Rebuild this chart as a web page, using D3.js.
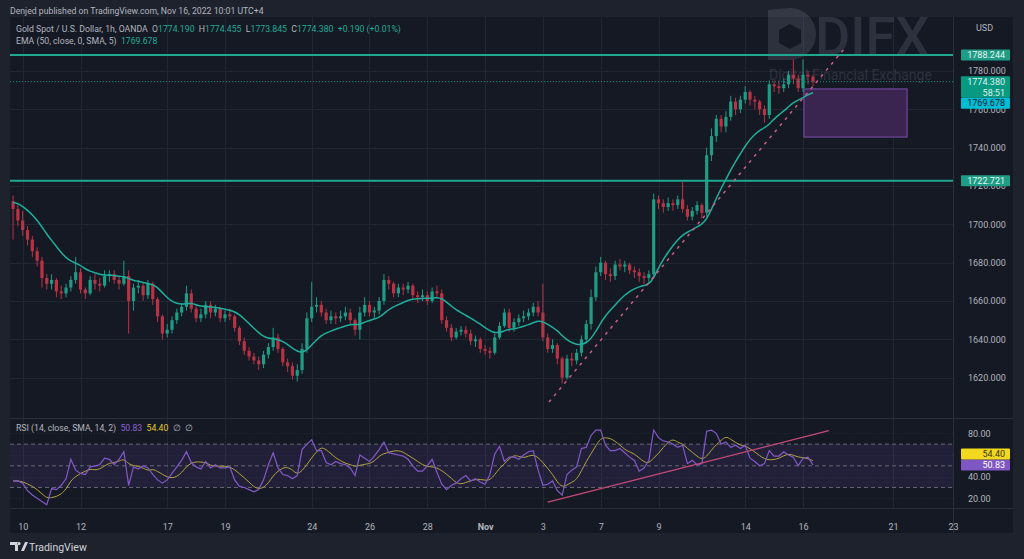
<!DOCTYPE html>
<html>
<head>
<meta charset="utf-8">
<script src="https://cdn.jsdelivr.net/npm/d3@7"></script>
<style>
body{margin:0;background:#1e222d;}
svg{display:block;font-family:Roboto,"Liberation Sans",sans-serif;}
</style>
</head>
<body>
<svg id="chart" width="1024" height="559"></svg>
<script>
// 4h candles, 6 per trading day, first two before Oct 10
var firstOpen = 1712;
var closes = [1708,1702,1697,1692,1686,1681,1672,1669,1671,1665, 1664,1667,1671,1675,1666,1664,1671,1669,1668,1673,
  1674,1671,1669,1673,1660,1667,1668,1663,1669,1661, 1652,1643,1645,1650,1654,1657,1664,1656,1651,1653,
  1658,1654,1656,1651,1653,1652,1646,1639,1634,1631, 1629,1627,1632,1636,1641,1635,1628,1626,1621,1624,
  1635,1651,1657,1658,1654,1650,1652,1651,1652,1654, 1650,1645,1654,1658,1654,1655,1660,1671,1669,1664,
  1667,1666,1668,1663,1662,1663,1660,1665,1664,1650, 1646,1641,1644,1645,1643,1639,1640,1635,1634,1633,
  1641,1647,1654,1646,1649,1651,1652,1654,1657,1654, 1641,1635,1637,1630,1620,1630,1629,1633,1640,1648,
  1662,1675,1680,1674,1673,1679,1678,1679,1676,1675, 1673,1672,1674,1713,1711,1709,1711,1710,1713,1708,
  1704,1707,1710,1706,1736,1746,1755,1751,1756,1764, 1760,1765,1769,1765,1764,1760,1757,1773,1772,1771,
  1773,1778,1776,1771,1778,1777,1774.38];
var highs = [1715,1710,1707,1699,1694,1688,1683,1674,1674,1672, 1668,1669,1673,1683,1677,1667,1673,1674,1672,1676,
  1676,1676,1673,1681,1676,1669,1671,1670,1671,1670, 1662,1653,1648,1652,1656,1659,1668,1666,1658,1656,
  1660,1660,1658,1657,1655,1656,1653,1647,1641,1636, 1633,1631,1634,1638,1646,1643,1636,1630,1628,1627,
  1638,1654,1670,1662,1660,1656,1655,1654,1655,1657, 1656,1651,1657,1662,1660,1657,1662,1674,1673,1670,
  1669,1669,1670,1669,1665,1666,1665,1667,1668,1666, 1652,1648,1646,1647,1647,1645,1642,1641,1637,1636,
  1643,1649,1656,1656,1651,1653,1655,1656,1659,1660, 1669,1643,1640,1638,1631,1632,1633,1635,1642,1650,
  1666,1678,1683,1681,1677,1681,1682,1681,1680,1678, 1677,1675,1676,1716,1715,1713,1714,1713,1715,1722,
  1710,1709,1712,1711,1740,1750,1757,1757,1759,1767, 1766,1767,1772,1770,1767,1765,1762,1775,1775,1775,
  1776,1780,1786,1778,1786,1780,1778];
var lows = [1692,1699,1694,1689,1683,1678,1667,1666,1666,1662, 1661,1662,1665,1669,1664,1661,1663,1666,1665,1667,
  1670,1669,1666,1668,1643,1655,1664,1660,1661,1658, 1649,1640,1641,1643,1648,1652,1655,1654,1649,1649,
  1651,1651,1652,1649,1649,1650,1644,1637,1632,1629, 1627,1624,1625,1630,1634,1633,1626,1623,1619,1618,
  1622,1633,1649,1654,1652,1648,1648,1648,1649,1650, 1648,1642,1640,1652,1652,1651,1653,1658,1666,1662,
  1662,1663,1664,1661,1659,1660,1658,1659,1662,1648, 1644,1639,1640,1642,1641,1637,1636,1633,1632,1630,
  1632,1640,1646,1644,1644,1647,1649,1650,1652,1652, 1639,1633,1633,1627,1617,1619,1626,1627,1631,1638,
  1645,1660,1673,1671,1670,1671,1676,1675,1674,1672, 1670,1669,1669,1672,1708,1706,1707,1707,1708,1706,
  1702,1702,1705,1703,1704,1733,1743,1748,1748,1754, 1757,1758,1763,1762,1760,1757,1753,1755,1769,1768,
  1769,1771,1773,1769,1769,1773,1772];
var rsi = [36,36,34,27,23,20,17,14,29,28, 32,38,56,46,43,42,49,50,51,57,
  56,51,56,63,32,49,47,50,48,42, 37,34,37,43,49,55,63,53,49,47,
  54,48,51,48,48,49,37,31,30,28, 26,28,37,51,62,48,42,41,38,41,
  65,70,74,64,64,53,51,54,52,51, 48,41,60,57,54,59,65,72,62,61,
  60,59,56,50,45,45,50,56,44,33, 28,32,34,38,41,36,38,35,33,42,
  61,68,54,58,58,56,60,63,64,46, 32,33,36,27,23,42,46,49,66,67,
  78,83,83,69,64,64,66,62,58,55, 45,48,55,83,76,73,72,70,67,69,
  52,55,51,52,82,83,80,70,72,67, 69,66,69,57,54,50,52,64,59,59,
  63,60,58,50,57,58,50.83];

var dayTicks = [0,2,5,7,10,12,14,16,18,20,22,25,27,30,32];
var dayLabels = ["10","12","17","19","24","26","28","Nov","3","7","9","14","16","21","23"];
var priceTicks = [1620,1640,1660,1680,1700,1720,1740,1760,1780];
var rsiTicks = [20,40,60,80];
var rsiLabelTicks = [20,40,80];
var levels = [1788.244, 1722.721];
var lastPrice = 1774.38, emaLast = 1769.678, rsiLast = 50.83, rsiMaLast = 54.40;
// drawings: [trading day, value]
var priceTrend = [[18.21,1607.3],[28.37,1791.4]];
var rsiTrend = [[18.17,16.4],[27.86,82.5]];
var zone = {d0:27.03, d1:30.47, top:1770.6, bottom:1745.5};

var fr = {l:10, t:17, r:1013, b:533}, axX = 953, mainB = 418, rsiB = 508;
var green = "#1e9c85", red = "#b83345";
var txt = "#b2b5be";
var fs = 8.7;

var svg = d3.select("#chart");
svg.append("rect").attr("width",1024).attr("height",559).attr("fill","#1e222d");
svg.append("rect").attr("x",fr.l).attr("y",fr.t).attr("width",fr.r-fr.l).attr("height",fr.b-fr.t).attr("fill","#151924");

var x = d3.scaleLinear().domain([0,27,32]).range([22.7,803,953]);
var y = d3.scaleLinear().domain([1620,1780]).range([377.7,70.9]);
var yr = d3.scaleLinear().domain([20,80]).range([498.3,433.3]);

var defs = svg.append("defs");
defs.append("clipPath").attr("id","cm").append("rect").attr("x",fr.l).attr("y",fr.t).attr("width",axX-fr.l).attr("height",mainB-fr.t);
defs.append("clipPath").attr("id","cr").append("rect").attr("x",fr.l).attr("y",mainB).attr("width",axX-fr.l).attr("height",rsiB-mainB);

// grid
var grid = svg.append("g").attr("stroke","#222633").attr("stroke-width",1);
grid.selectAll(".v").data(dayTicks).enter().append("line")
  .attr("x1",d=>Math.round(x(d))+0.5).attr("x2",d=>Math.round(x(d))+0.5).attr("y1",fr.t).attr("y2",rsiB);
grid.selectAll(".h").data(priceTicks).enter().append("line")
  .attr("x1",fr.l).attr("x2",axX).attr("y1",d=>Math.round(y(d))+0.5).attr("y2",d=>Math.round(y(d))+0.5);
grid.selectAll(".r").data(rsiTicks).enter().append("line")
  .attr("x1",fr.l).attr("x2",axX).attr("y1",d=>Math.round(yr(d))+0.5).attr("y2",d=>Math.round(yr(d))+0.5)
  .attr("stroke-dasharray","1,2");

// separators
var sep = svg.append("g").attr("stroke","#2a2e39");
sep.append("line").attr("x1",axX+0.5).attr("x2",axX+0.5).attr("y1",fr.t).attr("y2",fr.b);
sep.append("line").attr("x1",fr.l).attr("x2",fr.r).attr("y1",mainB+0.5).attr("y2",mainB+0.5);
sep.append("line").attr("x1",fr.l).attr("x2",fr.r).attr("y1",rsiB+0.5).attr("y2",rsiB+0.5);

// watermark
var wm = svg.append("g").attr("fill","#8b90a0").attr("opacity",0.2);
wm.append("path").attr("d","M768,10 L790,8 A26,26 0 0 1 790,60 L768,60 Z");
wm.append("path").attr("fill","#151924").attr("d","M779,30 L790,24 L801,30 L801,43 L790,49 L779,43 Z");
wm.append("text").attr("x",815).attr("y",55).attr("font-size",54).attr("font-weight",500).text("DIFX");
wm.append("text").attr("x",769).attr("y",80).attr("font-size",14).text("Digital Financial Exchange");

// main pane
var main = svg.append("g").attr("clip-path","url(#cm)");
main.append("rect").attr("x",x(zone.d0)).attr("y",y(zone.top)).attr("width",x(zone.d1)-x(zone.d0))
  .attr("height",y(zone.bottom)-y(zone.top)).attr("fill","#3a2450").attr("stroke","#7e4fb0").attr("stroke-width",1);

var bars = closes.map(function(c,i){
  var o = i ? closes[i-1] : firstOpen;
  return {t:(i-2)/6, o:o, c:c, h:Math.max(highs[i],o,c), l:Math.min(lows[i],o,c)};
});
var cg = main.append("g");
cg.selectAll(".wick").data(bars).enter().append("line")
  .attr("x1",d=>x(d.t)).attr("x2",d=>x(d.t)).attr("y1",d=>y(d.h)).attr("y2",d=>y(d.l))
  .attr("stroke",d=>d.c>=d.o?green:red).attr("stroke-width",1);
cg.selectAll(".body").data(bars).enter().append("rect")
  .attr("x",d=>x(d.t)-1.6).attr("width",3.2)
  .attr("y",d=>y(Math.max(d.o,d.c))).attr("height",d=>Math.max(1,Math.abs(y(d.o)-y(d.c))))
  .attr("fill",d=>d.c>=d.o?green:red);

// EMA of the closes, then a short SMA on top (as in the legend)
var alpha = 2/15, e = firstOpen;
var emaRaw = closes.map(function(c){ e = e + alpha*(c-e); return e; });
var ema = emaRaw.map(function(v,i){
  return {t:(i-2)/6, v:d3.mean(emaRaw.slice(Math.max(0,i-1), i+1))};
});
main.append("path").datum(ema).attr("fill","none").attr("stroke","#1fae9c").attr("stroke-width",1.5)
  .attr("d",d3.line().curve(d3.curveBasis).x(d=>x(d.t)).y(d=>y(d.v)));

main.selectAll(".lvl").data(levels).enter().append("line")
  .attr("x1",fr.l).attr("x2",axX).attr("y1",d=>y(d)).attr("y2",d=>y(d)).attr("stroke","#1ea88f").attr("stroke-width",2);
main.append("line").attr("x1",fr.l).attr("x2",axX).attr("y1",y(lastPrice)).attr("y2",y(lastPrice))
  .attr("stroke","#089981").attr("stroke-dasharray","1,2");
main.append("line").attr("x1",x(priceTrend[0][0])).attr("y1",y(priceTrend[0][1]))
  .attr("x2",x(priceTrend[1][0])).attr("y2",y(priceTrend[1][1]))
  .attr("stroke","#c85f86").attr("stroke-width",1.5).attr("stroke-dasharray","3,5");

// RSI pane
var rp = svg.append("g").attr("clip-path","url(#cr)");
rp.append("rect").attr("x",fr.l).attr("width",axX-fr.l).attr("y",yr(70)).attr("height",yr(30)-yr(70))
  .attr("fill","#7e57c2").attr("opacity",0.13);
rp.selectAll(".band").data([70,50,30]).enter().append("line")
  .attr("x1",fr.l).attr("x2",axX).attr("y1",d=>yr(d)).attr("y2",d=>yr(d))
  .attr("stroke","#787b86").attr("stroke-dasharray","4,3").attr("opacity",0.8);
var rpts = rsi.map((v,i)=>({t:(i-2)/6, v:v}));
var rma = rsi.map(function(v,i){
  return {t:(i-2)/6, v:d3.mean(rsi.slice(Math.max(0,i-4), i+1))};
});
rp.append("path").datum(rma).attr("fill","none").attr("stroke","#b3a33c").attr("stroke-width",1)
  .attr("d",d3.line().curve(d3.curveBasis).x(d=>x(d.t)).y(d=>yr(d.v)));
rp.append("path").datum(rpts).attr("fill","none").attr("stroke","#8159c8").attr("stroke-width",1.2)
  .attr("d",d3.line().x(d=>x(d.t)).y(d=>yr(d.v)));
rp.append("line").attr("x1",x(rsiTrend[0][0])).attr("y1",yr(rsiTrend[0][1]))
  .attr("x2",x(rsiTrend[1][0])).attr("y2",yr(rsiTrend[1][1]))
  .attr("stroke","#c64a78").attr("stroke-width",1.3);

// axes
var pa = svg.append("g").attr("transform","translate("+axX+",0)")
  .call(d3.axisRight(y).tickValues(priceTicks).tickSize(0).tickPadding(15).tickFormat(d3.format(".3f")));
var ra = svg.append("g").attr("transform","translate("+axX+",0)")
  .call(d3.axisRight(yr).tickValues(rsiLabelTicks).tickSize(0).tickPadding(15).tickFormat(d3.format(".2f")));
var ta = svg.append("g").attr("transform","translate(0,"+rsiB+")")
  .call(d3.axisBottom(x).tickValues(dayTicks).tickSize(0).tickPadding(16).tickFormat((d,i)=>dayLabels[i]));
[pa,ra,ta].forEach(function(a){
  a.select(".domain").remove();
  a.selectAll("text").attr("fill",txt).attr("font-size",9).attr("font-family","Roboto,sans-serif");
});
ta.selectAll("text").filter((d,i)=>dayLabels[i]==="Nov").attr("font-weight","bold");
svg.append("text").attr("x",976).attr("y",31).attr("fill",txt).attr("font-size",9).text("USD");

// value boxes on the price axis
function box(cy, h, fill, lines, col){
  var g = svg.append("g");
  g.append("rect").attr("x",961).attr("y",cy-5.5).attr("width",49).attr("height",h).attr("rx",1).attr("fill",fill);
  lines.forEach(function(s,i){
    g.append("text").attr("x",1005).attr("y",cy+3.2+i*11).attr("text-anchor","end")
      .attr("fill",col).attr("font-size",9).text(s);
  });
}
levels.forEach(v=>box(y(v),11,"#1e9c85",[v.toFixed(3)],"#e8f4f1"));
box(y(lastPrice),21.5,"#089981",[lastPrice.toFixed(3),"58:51"],"#dff2ee");
box(y(lastPrice)+21.5,11,"#00bcd4",[emaLast.toFixed(3)],"#0d2230");
box(yr(rsiLast),11,"#7e57c2",[rsiLast.toFixed(2)],"#ffffff");
box(Math.min(yr(rsiMaLast),yr(rsiLast)-11),11,"#f2d91f",[rsiMaLast.toFixed(2)],"#3a3410");

// legends
svg.append("text").attr("x",10).attr("y",14).attr("fill",txt).attr("font-size",fs)
  .text("Denjed published on TradingView.com, Nov 16, 2022 10:01 UTC+4");
function legend(yy, parts){
  var t = svg.append("text").attr("x",16).attr("y",yy).attr("font-size",fs).attr("xml:space","preserve");
  parts.forEach(p=>t.append("tspan").attr("fill",p[1]).text(p[0]));
}
var vg = "#22ab94";
legend(32,[["Gold Spot / U.S. Dollar, 1h, OANDA  O",txt],["1774.190",vg],["  H",txt],["1774.455",vg],
  ["  L",txt],["1773.845",vg],["  C",txt],["1774.380",vg],["  +0.190 (+0.01%)",vg]]);
legend(44,[["EMA (50, close, 0, SMA, 5)  ",txt],["1769.678",vg]]);
legend(431,[["RSI (14, close, SMA, 14, 2)  ",txt],["50.83","#8d63d2"],["  ",txt],["54.40","#e3cc2a"],["  \u2205  \u2205",txt]]);

// footer logo
var ft = svg.append("g");
ft.append("path").attr("fill","#d1d4dc").attr("d","M10,542 h8 v9 h-3 v-6 h-5 Z M19,542 a1.6,1.6 0 1 0 0.01,0 Z M21,551 l4,-9 h3 l-4,9 Z");
ft.append("text").attr("x",29).attr("y",551).attr("fill","#d1d4dc").attr("font-size",10.5).text("TradingView");
</script>
</body>
</html>
